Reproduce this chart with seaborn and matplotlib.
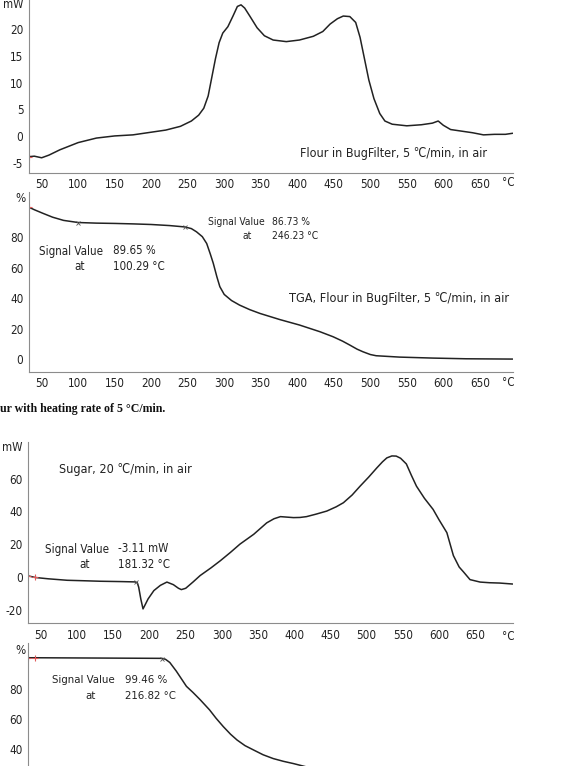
import numpy as np
import pandas as pd
import matplotlib
matplotlib.use("Agg")
import matplotlib.pyplot as plt
import seaborn as sns
from matplotlib import font_manager
from matplotlib.ticker import MultipleLocator

# ---- data read off the instrument printouts ----
# flour, DSC (mW) at 5 C/min
flour_dsc_T = [32, 40, 50, 60, 75, 100, 125, 150, 175, 200, 220, 240, 255, 265, 272, 278,
               283, 288, 293, 298, 305, 312, 318, 323, 328, 335, 345, 355, 367, 385, 403,
               422, 435, 445, 455, 463, 472, 480, 486, 492, 498, 505, 513, 520, 530, 550,
               570, 585, 593, 600, 610, 625, 640, 655, 670, 685, 695]
flour_dsc_v = [-3.9, -3.8, -4.1, -3.6, -2.6, -1.25, -0.4, 0.0, 0.2, 0.7, 1.1, 1.8, 2.8, 3.9,
               5.2, 7.5, 11.0, 14.5, 17.5, 19.3, 20.5, 22.5, 24.3, 24.6, 24.0, 22.5, 20.3,
               18.8, 18.0, 17.7, 18.0, 18.7, 19.6, 21.0, 22.0, 22.5, 22.4, 21.3, 18.5, 14.5,
               10.5, 7.0, 4.2, 2.8, 2.2, 1.9, 2.1, 2.4, 2.8, 2.0, 1.2, 0.9, 0.6, 0.2, 0.3,
               0.3, 0.5]

# flour, TGA (%)
flour_tga_T = [32, 40, 52, 65, 80, 100, 125, 150, 175, 200, 225, 246, 255, 262, 270, 276,
               281, 285, 290, 294, 300, 310, 321, 335, 349, 376, 403, 431, 449, 462, 472,
               482, 490, 500, 508, 540, 586, 631, 695]
flour_tga_v = [100.0, 98.2, 95.8, 93.3, 91.2, 89.8, 89.4, 89.2, 88.9, 88.5, 87.8, 86.9, 85.8,
               83.7, 80.5, 76.0, 69.0, 63.0, 54.0, 47.6, 42.5, 38.5, 35.5, 32.5, 30.0, 26.0,
               22.4, 18.0, 14.7, 11.8, 9.2, 6.5, 4.8, 3.0, 2.2, 1.3, 0.65, 0.2, 0.0]

# sugar, DSC (mW) at 20 C/min
sugar_dsc_T = [32, 42, 60, 86, 110, 132, 160, 180, 183, 185, 188, 191, 194, 198, 206, 215,
               224, 233, 240, 244, 250, 260, 270, 285, 298, 312, 325, 344, 362, 372, 381,
               390, 399, 408, 417, 430, 445, 458, 468, 480, 491, 503, 514, 522, 528, 535,
               541, 547, 555, 562, 569, 580, 592, 600, 611, 620, 628, 634, 643, 657, 670,
               684, 702]
sugar_dsc_v = [0.6, -0.4, -1.2, -2.1, -2.4, -2.7, -2.9, -3.1, -3.6, -6.3, -13.7, -19.6, -17.0,
               -13.5, -8.4, -5.2, -3.2, -4.8, -7.0, -7.8, -7.0, -3.2, 0.8, 5.5, 9.9, 15.0,
               20.0, 26.0, 33.0, 35.5, 36.8, 36.5, 36.2, 36.3, 36.8, 38.3, 40.2, 42.8, 45.3,
               50.0, 55.4, 61.0, 66.5, 70.3, 72.7, 73.9, 73.8, 72.5, 69.0, 62.0, 55.4, 48.0,
               41.2, 35.0, 27.0, 13.0, 6.0, 3.0, -1.7, -3.2, -3.6, -3.8, -4.4]

# sugar, TGA (%) - only the part left on the page
sugar_tga_T = [32, 42, 132, 217, 222, 228, 237, 244, 251, 260, 270, 283, 292, 302, 312, 321,
               332, 344, 357, 371, 385, 399, 413, 425]
sugar_tga_v = [100.3, 100.3, 100.1, 99.9, 99.3, 97.2, 91.5, 86.5, 81.5, 77.5, 72.7, 66.0,
               60.5, 55.0, 50.0, 46.2, 42.5, 39.6, 36.5, 34.0, 32.2, 30.7, 29.0, 27.5]

# start markers (red) and evaluated signal points (x)
flour_dsc_start = ([32], [-3.9])
flour_tga_start = ([32], [100.0])
flour_tga_sig = ([100.29, 246.23], [89.65, 86.73])
sugar_dsc_start = ([32, 42], [0.6, -0.4])
sugar_dsc_sig = ([181.32], [-3.11])
sugar_tga_start = ([32, 42], [100.3, 100.3])
sugar_tga_sig = ([216.82], [99.46])

x_ticks = list(range(50, 651, 50))

# ---- style ----
sns.set_style("white")
# a condensed DejaVu is the closest thing to the Tahoma of the printout
cond = [f for f in font_manager.fontManager.ttflist
        if f.name == 'DejaVu Sans' and 'condensed' in str(f.stretch) and f.style == 'normal']
if cond:
    plt.rcParams['font.family'] = ['DejaVu Sans', 'Noto Sans CJK SC']
    plt.rcParams['font.stretch'] = 'condensed'
    scale = 1.0
else:
    plt.rcParams['font.family'] = ['Liberation Sans', 'Noto Sans CJK SC', 'DejaVu Sans']
    scale = 1.02

W, H = 568, 766
fig = plt.figure(figsize=(W / 100, H / 100), dpi=100)
ink = '#222222'
spine_c = '#8c8c8c'
tick_fs = 8.4 * scale


def px_axes(left, top, right, bottom):
    return fig.add_axes([left / W, 1 - bottom / H, (right - left) / W, (bottom - top) / H])


def ftext(x, y, s, size, ha='left', **kw):
    fig.text(x / W, 1 - y / H, s, fontsize=size * scale, ha=ha, va='center', color=ink, **kw)


def style(ax, xlim, ylim, yticks, ylabels, yminor, xlabels=True):
    ax.set_xlim(*xlim)
    ax.set_ylim(*ylim)
    for s in ['top', 'right']:
        ax.spines[s].set_visible(False)
    for s in ['left', 'bottom']:
        ax.spines[s].set_color(spine_c)
        ax.spines[s].set_linewidth(0.8)
    ax.set_xticks(x_ticks)
    ax.xaxis.set_minor_locator(MultipleLocator(10))
    ax.set_yticks(yticks)
    ax.set_yticklabels(ylabels)
    ax.yaxis.set_minor_locator(MultipleLocator(yminor))
    ax.tick_params(axis='x', which='major', direction='in', length=3, width=0.6, color=spine_c,
                   labelsize=tick_fs, labelcolor=ink, pad=4, labelbottom=xlabels)
    ax.tick_params(axis='x', which='minor', direction='in', length=1.6, width=0.5, color=spine_c)
    ax.tick_params(axis='y', which='major', direction='out', length=2.5, width=0.6, color=spine_c,
                   labelsize=tick_fs, labelcolor=ink, pad=1.2)
    ax.tick_params(axis='y', which='minor', direction='out', length=1.5, width=0.5, color=spine_c)
    ax.set_xlabel('')
    ax.set_ylabel('')
    ax.patch.set_alpha(0)


def curve(ax, T, v, start, sig=None):
    df = pd.DataFrame({'T': T, 'v': v})
    sns.lineplot(data=df, x='T', y='v', ax=ax, color=ink, lw=1.1)
    ax.plot(start[0], start[1], ls='none', marker='+', ms=5, mew=0.8, color='#e05a5a')
    if sig is not None:
        ax.plot(sig[0], sig[1], ls='none', marker='x', ms=3, mew=0.6, color='#555555')


# panel 1: flour DSC
ax1 = px_axes(28.5, -9, 512.7, 172.7)
curve(ax1, flour_dsc_T, flour_dsc_v, flour_dsc_start)
style(ax1, (32, 695), (-6.9, 27.2), [-5, 0, 5, 10, 15, 20, 25],
      ['-5', '0', '5', '10', '15', '20', 'mW'], 1)
ftext(300, 153, 'Flour in BugFilter, 5 \u2103/min, in air', 9.0)
ftext(508, 183, '°C', 8.4, ha='center')

# panel 2: flour TGA
ax2 = px_axes(28.5, 191.8, 512.7, 371.7)
curve(ax2, flour_tga_T, flour_tga_v, flour_tga_start, flour_tga_sig)
style(ax2, (32, 695), (-8.3, 110), [0, 20, 40, 60, 80],
      ['0', '20', '40', '60', '80'], 10)
ftext(21, 199, '%', 8.6, ha='center')
ftext(39, 251, 'Signal Value', 8.3)
ftext(112.5, 251, '89.65 %', 8.3)
ftext(79.5, 267, 'at', 8.3, ha='center')
ftext(112.5, 267, '100.29 °C', 8.3)
ftext(208, 222, 'Signal Value', 7.4)
ftext(272.5, 222, '86.73 %', 7.4)
ftext(247.5, 236, 'at', 7.4, ha='center')
ftext(272.5, 236, '246.23 °C', 7.4)
ftext(289, 298, 'TGA, Flour in BugFilter, 5 \u2103/min, in air', 9.1)
ftext(508, 383, '°C', 8.4, ha='center')

# caption fragment left on the cropped page
fig.text(0 / W, 1 - 409 / H, 'ur with heating rate of 5 °C/min.', fontsize=8.6,
         family='Liberation Serif', weight='bold', ha='left', va='center', color='#111111')

# panel 3: sugar DSC
ax3 = px_axes(28, 441.7, 512.7, 623.3)
curve(ax3, sugar_dsc_T, sugar_dsc_v, sugar_dsc_start, sugar_dsc_sig)
style(ax3, (32, 702), (-28.4, 82.6), [-20, 0, 20, 40, 60, 80],
      ['-20', '0', '20', '40', '60', 'mW'], 10)
ftext(59, 469, 'Sugar, 20 \u2103/min, in air', 9.1)
ftext(45, 549, 'Signal Value', 8.3)
ftext(118, 549, '-3.11 mW', 8.3)
ftext(85, 565, 'at', 8.3, ha='center')
ftext(118, 565, '181.32 °C', 8.3)
ftext(508, 636, '°C', 8.4, ha='center')

# panel 4: sugar TGA (cut off by the page, only the upper labels are on it)
ax4 = px_axes(28, 643, 512.7, 822.9)
curve(ax4, sugar_tga_T, sugar_tga_v, sugar_tga_start, sugar_tga_sig)
style(ax4, (32, 702), (-8.3, 110), [40, 60, 80],
      ['40', '60', '80'], 10, xlabels=False)
ftext(21, 650, '%', 8.6, ha='center')
ftext(51.5, 680, 'Signal Value', 8.2)
ftext(125, 680, '99.46 %', 8.2)
ftext(90.5, 696, 'at', 8.2, ha='center')
ftext(125, 696, '216.82 °C', 8.2)

fig.savefig('out.png', dpi=100, facecolor='white')
